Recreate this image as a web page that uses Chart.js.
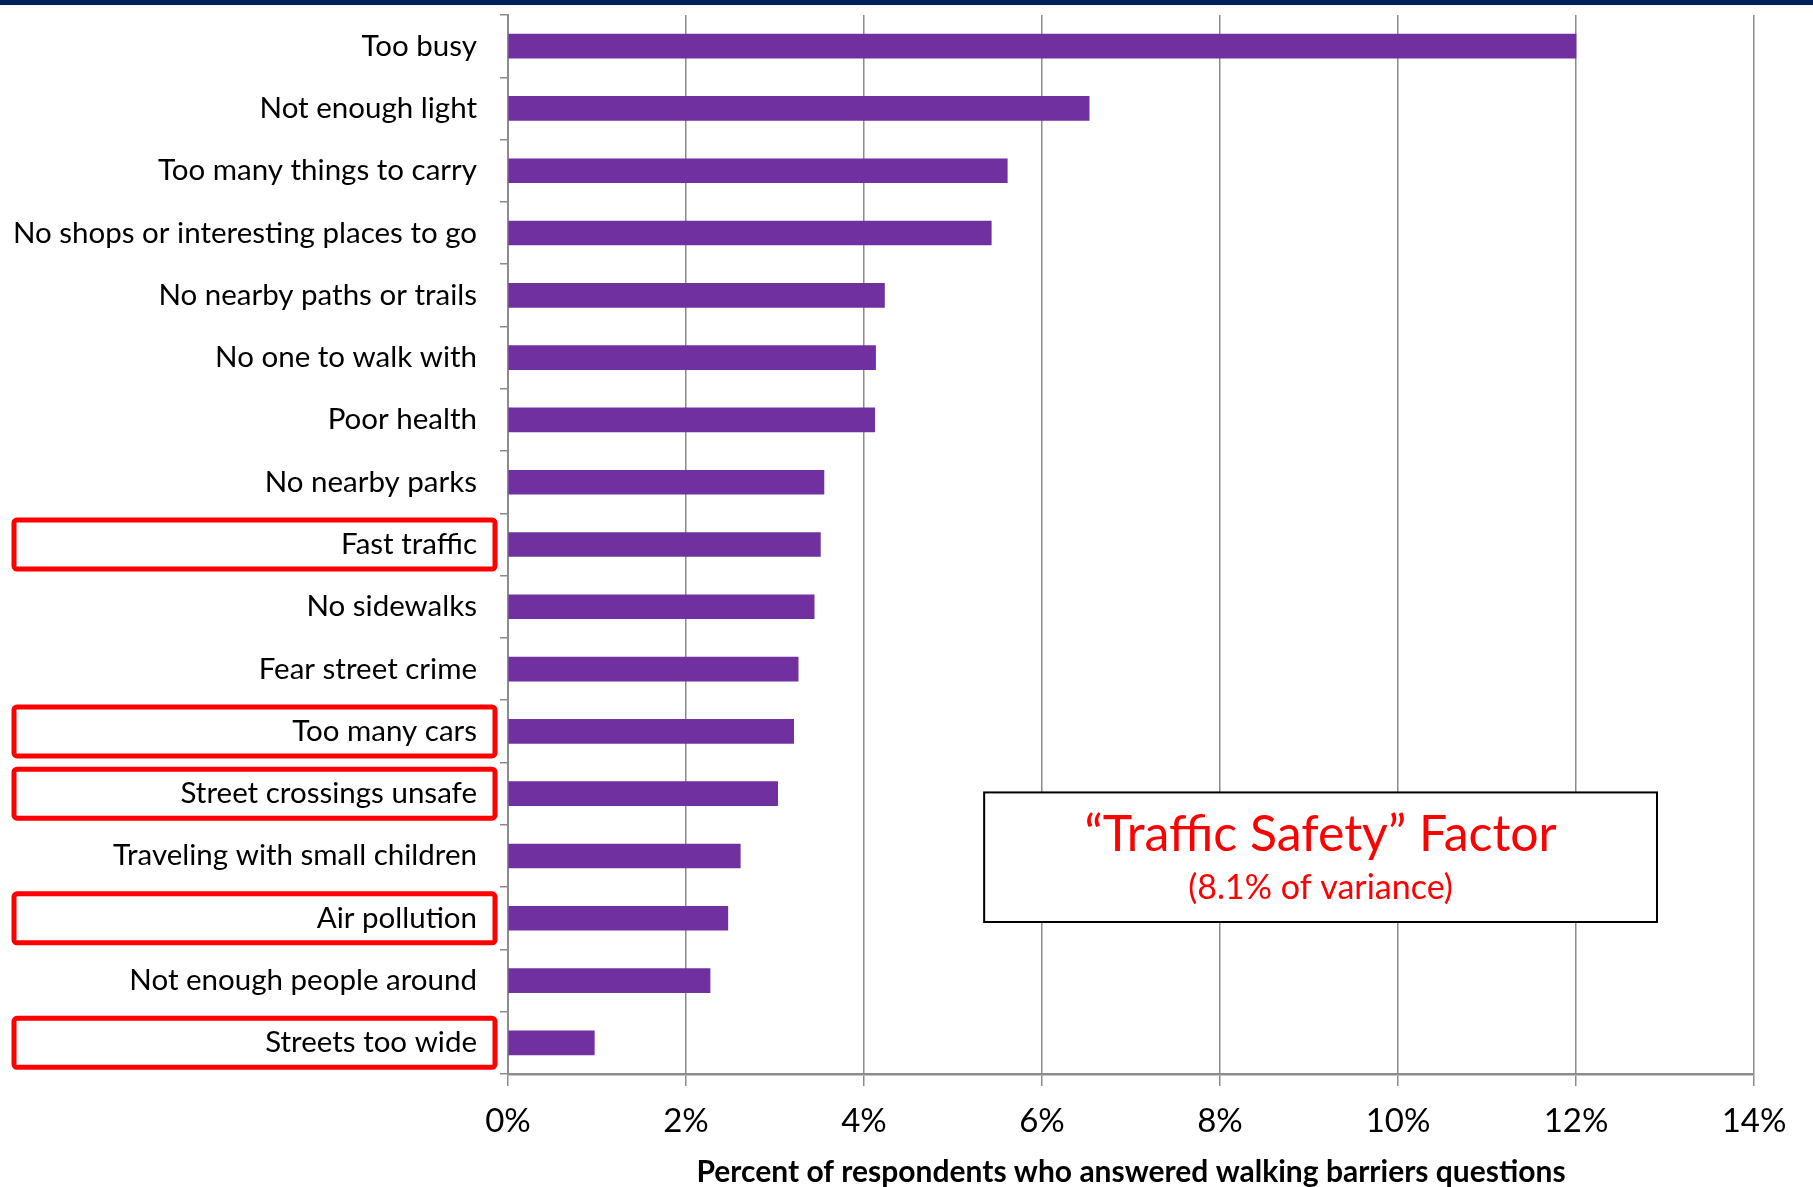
<!DOCTYPE html>
<html>
<head>
<meta charset="utf-8">
<title>Walking barriers</title>
<script src="https://cdn.jsdelivr.net/npm/chart.js@4.4.1/dist/chart.umd.min.js"></script>
<style>
  html, body { margin: 0; padding: 0; background: #fff; }
  #wrap { position: relative; width: 1813px; height: 1187px; }
  #topline { position: absolute; left: 0; top: 0; width: 100%; height: 5px; background: #002060; }
</style>
</head>
<body>
<div id="wrap">
  <canvas id="canvas-bar" width="1813" height="1187"></canvas>
  <div id="topline"></div>
</div>
<script>
// barriers, top to bottom
const barriers = [
  "Too busy",
  "Not enough light",
  "Too many things to carry",
  "No shops or interesting places to go",
  "No nearby paths or trails",
  "No one to walk with",
  "Poor health",
  "No nearby parks",
  "Fast traffic",
  "No sidewalks",
  "Fear street crime",
  "Too many cars",
  "Street crossings unsafe",
  "Traveling with small children",
  "Air pollution",
  "Not enough people around",
  "Streets too wide"
];
// percent of respondents
const percents = [12.0, 6.53, 5.61, 5.43, 4.23, 4.13, 4.12, 3.55, 3.51, 3.44, 3.26, 3.21, 3.03, 2.61, 2.47, 2.27, 0.97];
// items that load on the traffic safety factor
const trafficItems = ["Fast traffic", "Too many cars", "Street crossings unsafe", "Air pollution", "Streets too wide"];
const xMin = 0, xMax = 14, xStep = 2;
const factorTitle = "\u201cTraffic Safety\u201d Factor";
const factorNote = "(8.1% of variance)";

const FONT = "Lato, 'Open Sans', sans-serif";

// red outlines round the traffic labels + the factor box
const factorPlugin = {
  id: "factorBox",
  afterDraw(chart) {
    const ctx = chart.ctx;
    const x = chart.scales.x;
    const y = chart.scales.y;
    ctx.save();

    ctx.strokeStyle = "#ff0000";
    ctx.lineWidth = 5;
    barriers.forEach((name, i) => {
      if (!trafficItems.includes(name)) return;
      const cy = y.getPixelForValue(i);
      ctx.beginPath();
      ctx.roundRect(14, cy - 24.5, 481, 49, 3);
      ctx.stroke();
    });

    const left = x.getPixelForValue(5.35);
    const right = x.getPixelForValue(12.91);
    const top = y.getPixelForValue(11.98);
    const bottom = y.getPixelForValue(14.06);
    ctx.fillStyle = "#fff";
    ctx.fillRect(left, top, right - left, bottom - top);
    ctx.strokeStyle = "#000";
    ctx.lineWidth = 2;
    ctx.strokeRect(left, top, right - left, bottom - top);

    const cx = (left + right) / 2;
    ctx.fillStyle = "#ff0000";
    ctx.textAlign = "center";
    ctx.textBaseline = "middle";
    ctx.font = "50px " + FONT;
    ctx.fillText(factorTitle, cx, top + 42);
    ctx.font = "34px " + FONT;
    ctx.fillText(factorNote, cx, top + 96);
    ctx.restore();
  }
};

const dati = {
  labels: barriers,
  datasets: [
    {
      label: "%",
      data: percents,
      backgroundColor: "#7030a0",
      borderWidth: 0,
      barThickness: 24,
    },
  ],
};

const config = {
  type: "bar",
  data: dati,
  options: {
    indexAxis: "y",
    responsive: false,
    animation: false,
    devicePixelRatio: 1,
    layout: {
      padding: { top: 15, right: 59, left: 0, bottom: 0 },
    },
    scales: {
      x: {
        min: xMin,
        max: xMax,
        afterFit: (scale) => { scale.height = 113; },
        grid: {
          color: "#8c8c8c",
          lineWidth: 1.5,
          tickLength: 12,
        },
        border: { color: "#8c8c8c", width: 2.5 },
        ticks: {
          stepSize: xStep,
          color: "#000",
          padding: 16,
          font: { family: FONT, size: 33 },
          callback: (v) => v + "%",
        },
        title: {
          display: true,
          text: "Percent of respondents who answered walking barriers questions",
          color: "#000",
          font: { family: FONT, size: 30, weight: "bold", lineHeight: 1 },
          padding: { top: 0, bottom: 0 },
        },
      },
      y: {
        afterFit: (scale) => {
          scale.width = 508;
          scale.paddingTop = 0;
          scale.paddingBottom = 0;
        },
        grid: {
          drawOnChartArea: false,
          color: "#8c8c8c",
          lineWidth: 1.5,
          tickLength: 8,
        },
        border: { color: "#8c8c8c", width: 2 },
        ticks: {
          color: "#000",
          padding: 23,
          font: { family: FONT, size: 29.5 },
        },
      },
    },
    plugins: {
      legend: { display: false },
      tooltip: { enabled: false },
    },
  },
  plugins: [factorPlugin],
};

new Chart(document.getElementById("canvas-bar").getContext("2d"), config);
</script>
</body>
</html>
